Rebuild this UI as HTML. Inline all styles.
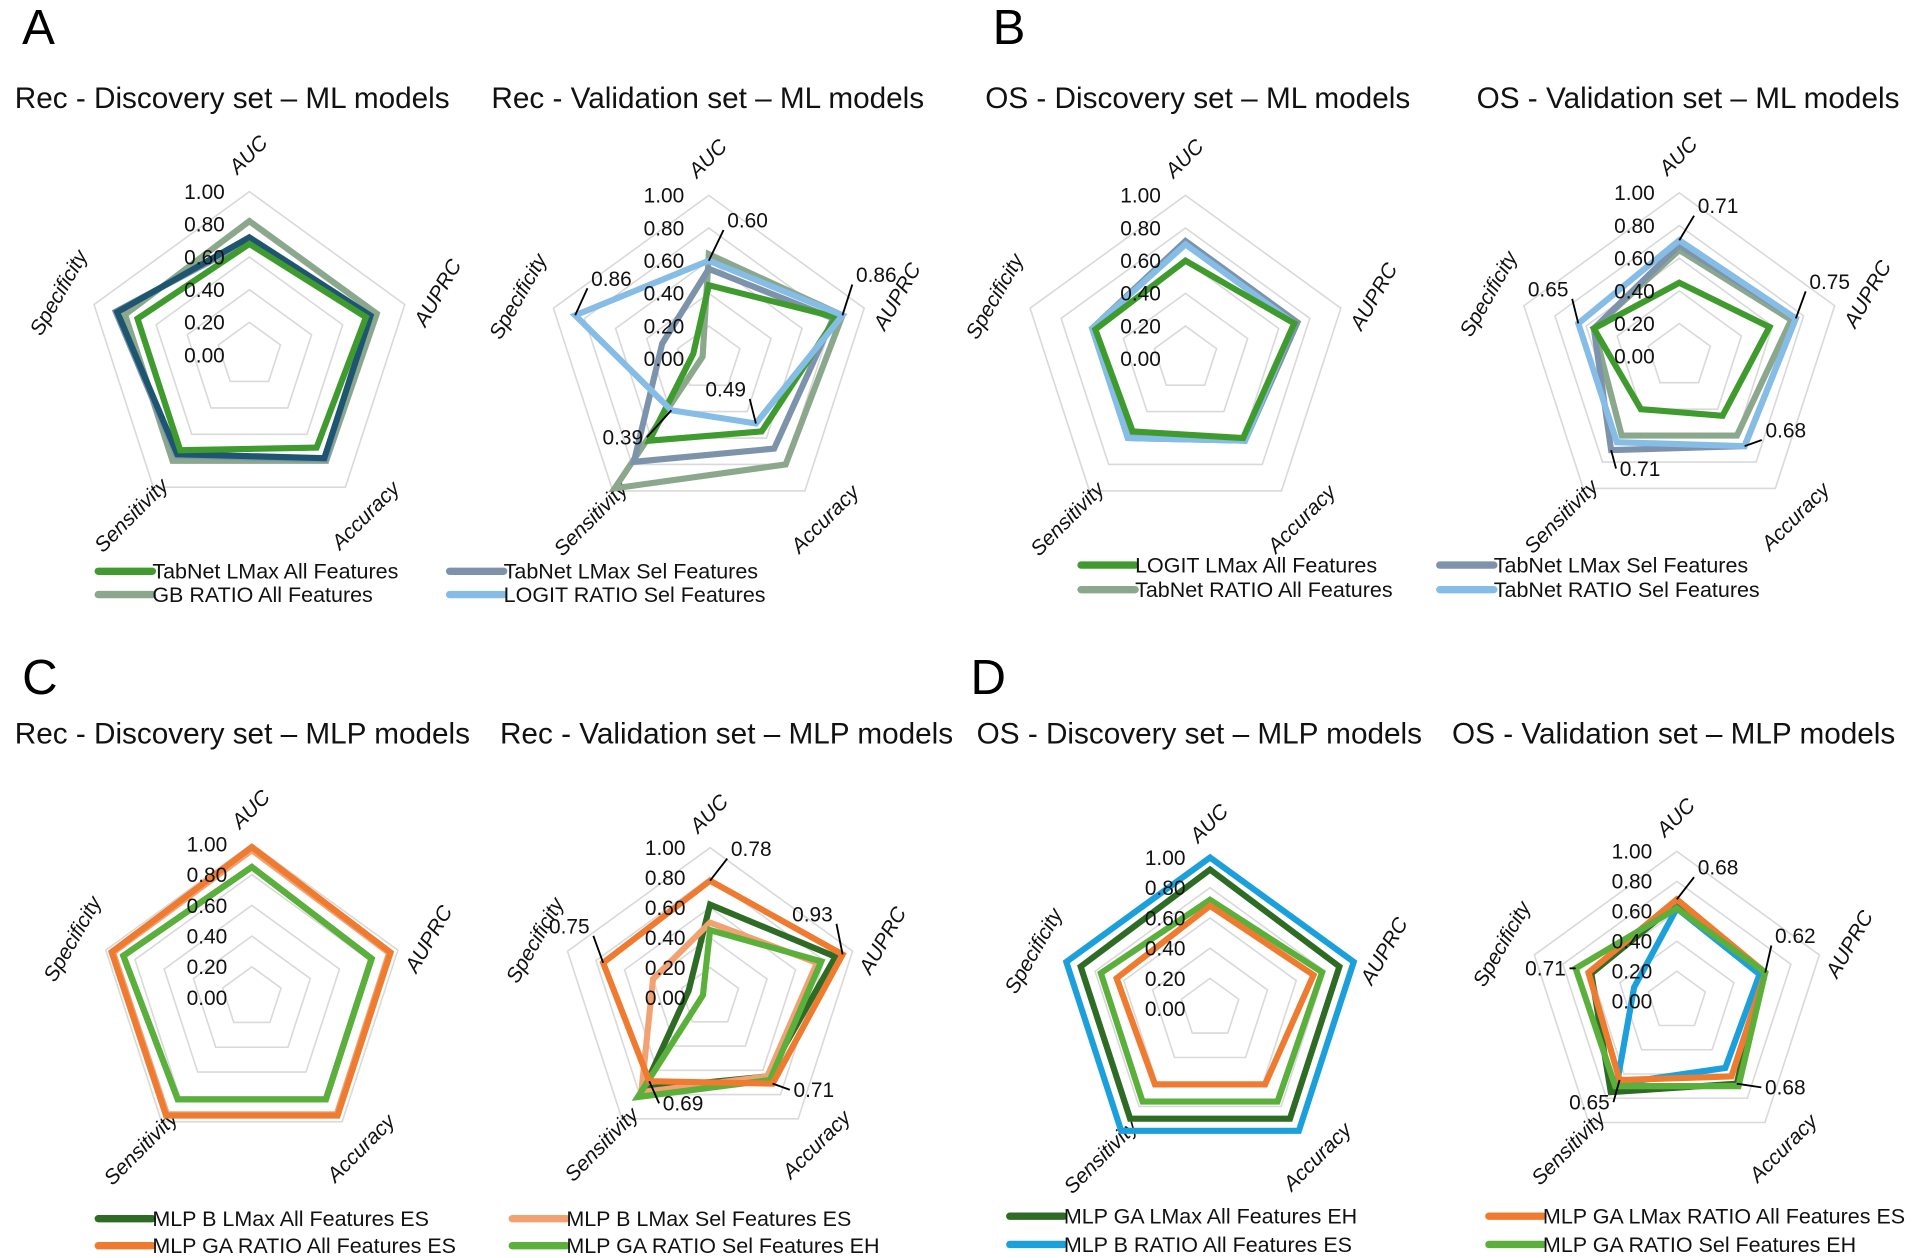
<!DOCTYPE html>
<html><head><meta charset="utf-8">
<style>
html,body{margin:0;padding:0;background:#fff;}
svg{display:block;font-family:"Liberation Sans",sans-serif;}
</style></head>
<body>
<svg id="s" width="1925" height="1258" viewBox="0 0 1567 1024" preserveAspectRatio="none" xmlns="http://www.w3.org/2000/svg">
<rect width="1567" height="1024" fill="#fff"/>
<g font-size="40" fill="#000">
<text x="18" y="36">A</text><text x="808" y="36">B</text>
<text x="18" y="565">C</text><text x="790" y="565">D</text>
</g>
<g font-size="24.2" fill="#111">
<text x="12" y="88">Rec - Discovery set – ML models</text>
<text x="400" y="88">Rec - Validation set – ML models</text>
<text x="802" y="88">OS - Discovery set – ML models</text>
<text x="1202" y="88">OS - Validation set – ML models</text>
<text x="12" y="605">Rec - Discovery set – MLP models</text>
<text x="407" y="605">Rec - Validation set – MLP models</text>
<text x="795" y="605">OS - Discovery set – MLP models</text>
<text x="1182" y="605">OS - Validation set – MLP models</text>
</g>
<g id="charts"></g>
<g font-size="17.5" fill="#111" id="leg"></g>
</svg>
<script>
const NS="http://www.w3.org/2000/svg";
const C=document.getElementById('charts');
function el(t,a,p,txt){const e=document.createElementNS(NS,t);for(const k in a)e.setAttribute(k,a[k]);if(txt!==undefined)e.textContent=txt;(p||C).appendChild(e);return e;}
const col={g:"#3f9b2d",gg:"#8ba88d",gb:"#7d93ab",lb:"#86bde6",nv:"#1e5672",or:"#ee7b30",lo:"#f2a272",dg:"#2e6b25",mg:"#5bb03c",bl:"#1ca0dc"};
const ang=[-90,-18,54,126,198].map(a=>a*Math.PI/180);
function pt(cx,cy,R,i,v){return [cx+Math.cos(ang[i])*R*v, cy+Math.sin(ang[i])*R*v];}
function chart(cx,cy,R,series,ann){
  for(let k=1;k<=5;k++){let p=[];for(let i=0;i<5;i++)p.push(pt(cx,cy,R,i,k/5).join(','));
    el('polygon',{points:p.join(' '),fill:'none',stroke:'#d9d9d9','stroke-width':1.3});}
  const names=["AUC","AUPRC","Accuracy","Sensitivity","Specificity"];
  const rot=[-45,-60,-45,-45,-60];
  for(let i=0;i<5;i++){const [x,y]=pt(cx,cy,R,i,1.22);
    el('text',{x:x,y:y,'font-size':17,'font-style':'italic','text-anchor':'middle','dominant-baseline':'middle',transform:`rotate(${rot[i]} ${x} ${y})`,fill:'#111'},null,names[i]);}
  series.forEach(s=>{let p=s.v.map((v,i)=>pt(cx,cy,R,i,v).join(','));
    el('polygon',{points:p.join(' '),fill:'none',stroke:col[s.c],'stroke-width':s.w||5,'stroke-linejoin':'miter'});});
  for(let k=0;k<=5;k++){el('text',{x:cx-20,y:cy-R*k/5+6,'font-size':17,'text-anchor':'end',fill:'#111'},null,(k/5).toFixed(2));}
  (ann||[]).forEach(a=>{const [x,y]=pt(cx,cy,R,a[0],a[1]);const dx=a[2],dy=a[3];
    el('line',{x1:x,y1:y,x2:x+dx,y2:y+dy,stroke:'#000','stroke-width':1.5});
    el('text',{x:x+dx+(dx<0?-3:3),y:y+dy+(dy<0?-2:6),'font-size':17,'text-anchor':dx<0?'end':'start',fill:'#111'},null,a[1].toFixed(2));});
}
chart(203,289,133,[
 {c:'gg',v:[0.82,0.82,0.80,0.80,0.80]},
 {c:'gb',v:[0.70,0.77,0.79,0.76,0.86]},
 {c:'nv',v:[0.72,0.78,0.78,0.75,0.85]},
 {c:'g',v:[0.68,0.75,0.70,0.72,0.72]}]);
chart(577,292,133,[
 {c:'gg',v:[0.64,0.86,0.80,0.98,0.04]},
 {c:'gb',v:[0.55,0.80,0.68,0.78,0.30]},
 {c:'g',v:[0.45,0.82,0.55,0.62,0.10]},
 {c:'lb',v:[0.60,0.86,0.49,0.39,0.86]}],
 [[0,0.60,12,-25],[1,0.86,8,-25],[2,0.49,-5,-20],[3,0.39,-20,22],[4,0.86,10,-22]]);
chart(965,292,133,[
 {c:'gg',v:[0.72,0.72,0.62,0.58,0.60]},
 {c:'gb',v:[0.72,0.72,0.62,0.60,0.60]},
 {c:'lb',v:[0.70,0.70,0.62,0.60,0.60]},
 {c:'g',v:[0.60,0.70,0.60,0.55,0.58]}]);
chart(1367,290,133,[
 {c:'gg',v:[0.65,0.72,0.60,0.60,0.55]},
 {c:'gb',v:[0.68,0.75,0.68,0.71,0.55]},
 {c:'lb',v:[0.71,0.75,0.68,0.65,0.65]},
 {c:'g',v:[0.45,0.58,0.45,0.40,0.55]}],
 [[0,0.71,12,-20],[1,0.75,8,-22],[2,0.68,14,-5],[3,0.71,4,15],[4,0.65,-5,-20]]);
chart(205,812,125,[
 {c:'lo',v:[0.96,0.94,0.94,0.94,0.95]},
 {c:'dg',v:[0.85,0.82,0.82,0.82,0.88]},
 {c:'or',v:[0.98,0.95,0.95,0.95,0.96]},
 {c:'mg',v:[0.85,0.82,0.82,0.82,0.88]}]);
chart(578,812,122,[
 {c:'dg',v:[0.62,0.88,0.65,0.75,0.15]},
 {c:'lo',v:[0.50,0.75,0.65,0.78,0.40]},
 {c:'mg',v:[0.45,0.78,0.68,0.82,0.05]},
 {c:'or',v:[0.78,0.93,0.71,0.69,0.75]}],
 [[0,0.78,14,-18],[1,0.93,-5,-25],[2,0.71,14,5],[3,0.69,8,18],[4,0.75,-8,-22]]);
chart(985,821,123,[
 {c:'bl',v:[1.0,1.0,1.0,1.0,1.0]},
 {c:'dg',v:[0.92,0.90,0.90,0.90,0.90]},
 {c:'mg',v:[0.72,0.78,0.76,0.76,0.76]},
 {c:'or',v:[0.68,0.72,0.62,0.62,0.65]}]);
chart(1365,815,122,[
 {c:'dg',v:[0.65,0.60,0.68,0.75,0.60]},
 {c:'bl',v:[0.62,0.58,0.55,0.68,0.30]},
 {c:'or',v:[0.68,0.62,0.62,0.65,0.62]},
 {c:'mg',v:[0.62,0.62,0.70,0.70,0.71]}],
 [[0,0.68,14,-18],[1,0.62,5,-22],[2,0.68,20,3],[3,0.65,-5,18],[4,0.71,-5,0]]);
const L=document.getElementById('leg');
function leg(x,y,c,t){el('line',{x1:x,y1:y-6,x2:x+44,y2:y-6,stroke:col[c],'stroke-width':6,'stroke-linecap':'round'},L);el('text',{x:x+44,y:y},L,t);}
leg(80,471,'g',"TabNet LMax All Features");leg(366,471,'gb',"TabNet LMax Sel Features");
leg(80,490,'gg',"GB RATIO All Features");leg(366,490,'lb',"LOGIT RATIO Sel Features");
leg(880,466,'g',"LOGIT LMax All Features");leg(1172,466,'gb',"TabNet LMax Sel Features");
leg(880,486,'gg',"TabNet RATIO All Features");leg(1172,486,'lb',"TabNet RATIO Sel Features");
leg(80,998,'dg',"MLP B LMax All Features ES");leg(417,998,'lo',"MLP B LMax Sel Features ES");
leg(80,1020,'or',"MLP GA RATIO All Features ES");leg(417,1020,'mg',"MLP GA RATIO Sel Features EH");
leg(822,996,'dg',"MLP GA LMax All Features EH");leg(1212,996,'or',"MLP GA LMax RATIO All Features ES");
leg(822,1019,'bl',"MLP B RATIO All Features ES");leg(1212,1019,'mg',"MLP GA RATIO Sel Features EH");
</script>
</body></html>
